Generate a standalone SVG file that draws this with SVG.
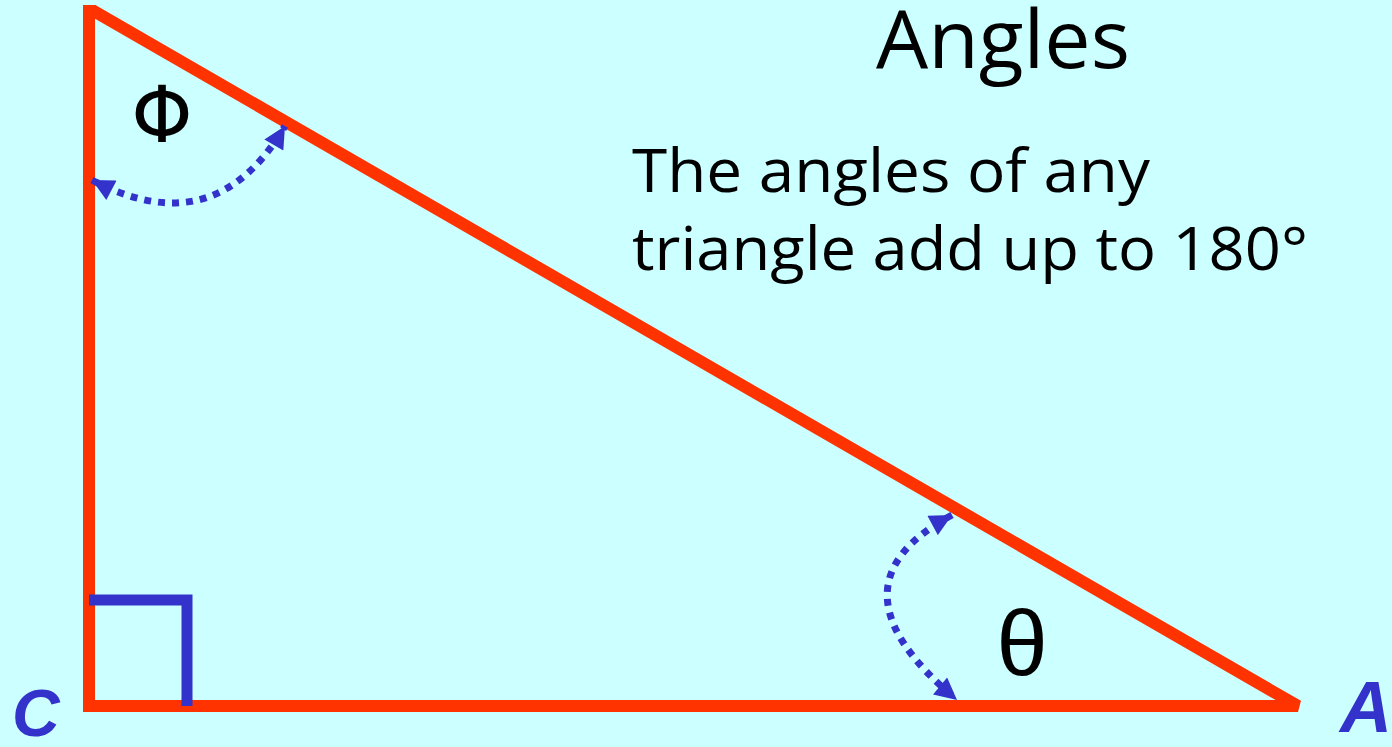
<svg xmlns="http://www.w3.org/2000/svg" width="1392" height="747" viewBox="0 0 1392 747">
<defs>
<style>
.side{stroke:#FF3300;stroke-width:12;fill:none;stroke-linejoin:miter;stroke-miterlimit:3}
.arc{stroke:#3333CC;stroke-width:7;stroke-dasharray:7 7;fill:none}
.txt{font-family:"Open Sans","Liberation Sans",sans-serif;fill:#000}
.lbl{font-family:"Liberation Sans",sans-serif;font-weight:bold;font-style:italic;fill:#3333CC}
</style>
<marker id="ah" viewBox="0 0 10 10" refX="10" refY="5" markerWidth="24" markerHeight="22" markerUnits="userSpaceOnUse" orient="auto-start-reverse">
<path d="M0,0 L10,5 L0,10 z" fill="#3333CC"/>
</marker>
</defs>
<rect width="1392" height="747" fill="#CCFFFF"/>
<g id="triangle">
<path class="side" d="M89,5 L89,706 L1298,706 L92,10"/>
</g>
<g id="right-angle">
<path d="M89,600 L187,600 L187,706" stroke="#3333CC" stroke-width="11" fill="none"/>
</g>
<g id="connectors">
<path class="arc" d="M92,180 Q215,245 285,126" marker-start="url(#ah)" marker-end="url(#ah)"/>
<path class="arc" d="M952,515 Q820,586 957,700" marker-start="url(#ah)" marker-end="url(#ah)"/>
</g>
<g id="title">
<text class="txt" x="876" y="68" font-size="80" textLength="254" lengthAdjust="spacingAndGlyphs">Angles</text>
</g>
<g id="statement">
<text class="txt" x="632" y="192" font-size="60" textLength="518" lengthAdjust="spacingAndGlyphs">The angles of any</text>
<text class="txt" x="632" y="270" font-size="60" textLength="676" lengthAdjust="spacingAndGlyphs">triangle add up to 180°</text>
</g>
<g id="phi">
<text x="162" y="142" font-size="78" text-anchor="middle" font-family="DejaVu Sans,sans-serif">Φ</text>
</g>
<g id="theta">
<text x="1022" y="675" font-size="92" text-anchor="middle" font-family="Liberation Sans,sans-serif">θ</text>
</g>
<g id="C">
<text class="lbl" x="12" y="736" font-size="66">C</text>
</g>
<g id="A">
<text class="lbl" x="1340" y="732" font-size="72">A</text>
</g>
</svg>
